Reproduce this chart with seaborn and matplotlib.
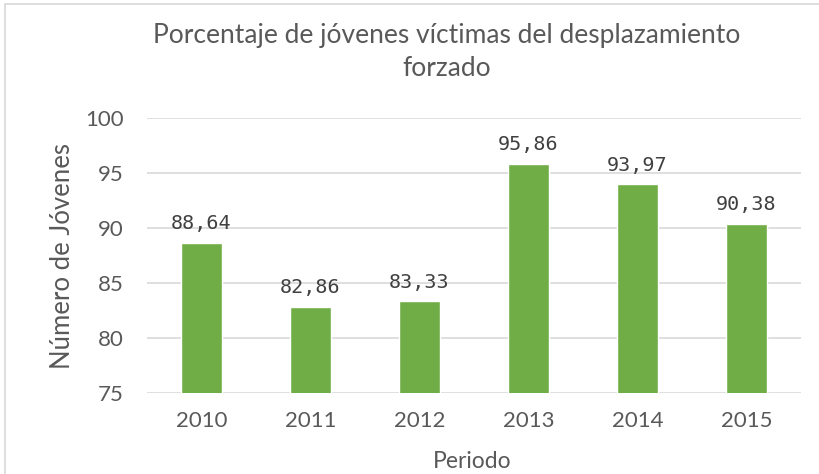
import matplotlib
matplotlib.use("Agg")
import matplotlib.pyplot as plt
import seaborn as sns
import pandas as pd
from matplotlib.lines import Line2D

years = ["2010", "2011", "2012", "2013", "2014", "2015"]
values = [88.64, 82.86, 83.33, 95.86, 93.97, 90.38]
value_labels = ["88,64", "82,86", "83,33", "95,86", "93,97", "90,38"]
yticks = [75, 80, 85, 90, 95, 100]

sns.set_theme(style="white")
plt.rcParams['font.family'] = ['Lato', 'DejaVu Sans']

df = pd.DataFrame({"Periodo": years, "valor": values})

fig = plt.figure(figsize=(8.2, 4.74), dpi=100)
ax = fig.add_axes([147/820, 1-393/474, (801-147)/820, (393-118)/474])

sns.barplot(data=df, x="Periodo", y="valor", color="#70AD47", width=0.38,
            saturation=1, ax=ax, zorder=3)

ax.set_ylim(75, 100)
ax.set_yticks(yticks)
ax.set_yticklabels([str(t) for t in yticks])
ax.yaxis.grid(True, color="#D9D9D9", linewidth=1.2, zorder=0)
ax.set_axisbelow(True)
for s in ax.spines.values():
    s.set_visible(False)
ax.tick_params(axis="both", length=0, labelsize=16, colors="#595959")
ax.tick_params(axis="y", pad=17)
ax.tick_params(axis="x", pad=13)

for p, lab in zip(ax.patches, value_labels):
    ax.annotate(lab, (p.get_x() + p.get_width()/2, p.get_height()),
                xytext=(0, 7), textcoords="offset points", ha="center", va="bottom",
                fontsize=14.5, color="#404040", family=["DejaVu Sans Mono"], zorder=4)

ax.set_xlabel("")
ax.set_ylabel("")
fig.text(472/820, 1-462/474, "Periodo", ha="center", va="center",
         fontsize=16.5, color="#595959")
fig.text(63/820, 1-256/474, "Número de Jóvenes", ha="center", va="center",
         rotation=90, fontsize=18.5, color="#595959")

fig.text(447/820, 1-52/474, "Porcentaje de jóvenes víctimas del desplazamiento\nforzado",
         ha="center", va="center", fontsize=19, color="#595959", linespacing=1.45)

# chart border (left and top visible)
fig.add_artist(Line2D([5/820, 5/820], [0, 1-4/474], transform=fig.transFigure,
                      color="#D9D9D9", linewidth=1.2))
fig.add_artist(Line2D([5/820, 1], [1-4/474, 1-4/474], transform=fig.transFigure,
                      color="#D9D9D9", linewidth=1.2))

fig.savefig("out.png", dpi=100)
